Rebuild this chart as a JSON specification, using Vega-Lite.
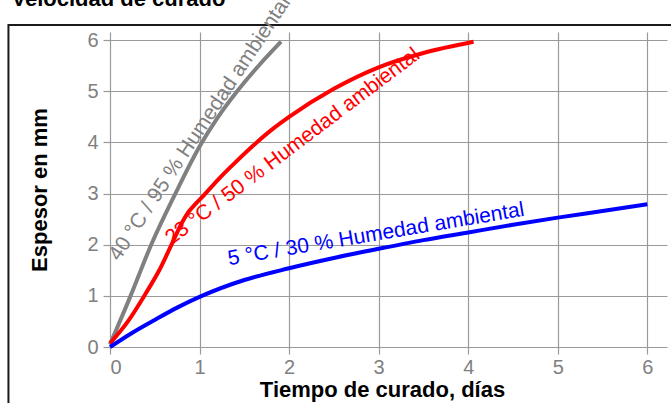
{
  "$schema": "https://vega.github.io/schema/vega-lite/v6.json",
  "width": 557,
  "height": 315,
  "autosize": {"type": "none"},
  "padding": {"left": 110, "top": 32, "right": 4, "bottom": 56},
  "background": "white",
  "title": {
    "text": "Velocidad de curado",
    "anchor": "start",
    "frame": "bounds",
    "font": "Liberation Sans",
    "fontSize": 22,
    "fontWeight": "bold",
    "color": "black",
    "offset": 4,
    "dy": 22,
    "dx": 4
  },
  "config": {
    "view": {"stroke": null},
    "font": "Liberation Sans",
    "axis": {
      "grid": true,
      "gridColor": "#9a9a9a",
      "gridWidth": 1.2,
      "tickColor": "#9a9a9a",
      "tickWidth": 1.2,
      "tickSize": 7,
      "domain": false,
      "labelColor": "#808080",
      "labelFont": "Liberation Sans",
      "labelFontSize": 20,
      "titleFont": "Liberation Sans",
      "titleFontSize": 22,
      "titleFontWeight": "bold",
      "titleColor": "black"
    }
  },
  "datasets": {
    "curves": [
      {"serie": "40 °C", "dias": 0, "mm": 0.05},
      {"serie": "40 °C", "dias": 0.23, "mm": 1.0},
      {"serie": "40 °C", "dias": 0.46, "mm": 2.0},
      {"serie": "40 °C", "dias": 0.73, "mm": 3.0},
      {"serie": "40 °C", "dias": 1.0, "mm": 3.92},
      {"serie": "40 °C", "dias": 1.2, "mm": 4.48},
      {"serie": "40 °C", "dias": 1.42, "mm": 5.0},
      {"serie": "40 °C", "dias": 1.66, "mm": 5.5},
      {"serie": "40 °C", "dias": 1.91, "mm": 5.97},
      {"serie": "23 °C", "dias": 0, "mm": 0.07},
      {"serie": "23 °C", "dias": 0.2, "mm": 0.5},
      {"serie": "23 °C", "dias": 0.4, "mm": 1.05},
      {"serie": "23 °C", "dias": 0.55, "mm": 1.5},
      {"serie": "23 °C", "dias": 0.7, "mm": 2.05},
      {"serie": "23 °C", "dias": 0.8, "mm": 2.42},
      {"serie": "23 °C", "dias": 0.88, "mm": 2.65},
      {"serie": "23 °C", "dias": 0.95, "mm": 2.79},
      {"serie": "23 °C", "dias": 1.05, "mm": 2.97},
      {"serie": "23 °C", "dias": 1.2, "mm": 3.26},
      {"serie": "23 °C", "dias": 1.4, "mm": 3.61},
      {"serie": "23 °C", "dias": 1.6, "mm": 3.94},
      {"serie": "23 °C", "dias": 1.8, "mm": 4.24},
      {"serie": "23 °C", "dias": 2.0, "mm": 4.5},
      {"serie": "23 °C", "dias": 2.5, "mm": 5.05},
      {"serie": "23 °C", "dias": 3.0, "mm": 5.47},
      {"serie": "23 °C", "dias": 3.5, "mm": 5.75},
      {"serie": "23 °C", "dias": 4.06, "mm": 5.97},
      {"serie": "5 °C", "dias": 0, "mm": 0},
      {"serie": "5 °C", "dias": 0.25, "mm": 0.28},
      {"serie": "5 °C", "dias": 0.5, "mm": 0.53},
      {"serie": "5 °C", "dias": 0.75, "mm": 0.77},
      {"serie": "5 °C", "dias": 1.0, "mm": 0.98},
      {"serie": "5 °C", "dias": 1.5, "mm": 1.31},
      {"serie": "5 °C", "dias": 2.0, "mm": 1.54},
      {"serie": "5 °C", "dias": 2.5, "mm": 1.74},
      {"serie": "5 °C", "dias": 3.0, "mm": 1.92},
      {"serie": "5 °C", "dias": 3.5, "mm": 2.09},
      {"serie": "5 °C", "dias": 4.0, "mm": 2.24},
      {"serie": "5 °C", "dias": 4.5, "mm": 2.39},
      {"serie": "5 °C", "dias": 5.0, "mm": 2.53},
      {"serie": "5 °C", "dias": 5.5, "mm": 2.66},
      {"serie": "5 °C", "dias": 6.0, "mm": 2.79}
    ]
  },
  "encoding": {
    "x": {
      "type": "quantitative",
      "scale": {"domain": [0, 6.22], "nice": false, "zero": false},
      "axis": {"values": [0, 1, 2, 3, 4, 5, 6], "title": "Tiempo de curado, días", "labelPadding": 3, "titlePadding": 2, "titleX": 272, "titleAnchor": "middle", "format": "d"}
    },
    "y": {
      "type": "quantitative",
      "scale": {"domain": [0, 6.16], "nice": false, "zero": false},
      "axis": {"values": [0, 1, 2, 3, 4, 5, 6], "title": "Espesor en mm", "labelPadding": 5, "titlePadding": 35, "format": "d"}
    }
  },
  "layer": [
    {
      "data": {"values": [{}]},
      "mark": {"type": "rect", "fill": null, "fillOpacity": 0, "stroke": "#1a1a1a", "strokeWidth": 2, "clip": false},
      "encoding": {
        "x": {"datum": -1.134},
        "x2": {"datum": 7.5},
        "y": {"datum": 6.295},
        "y2": {"datum": -2.5}
      }
    },
    {
      "data": {"name": "curves"},
      "mark": {"type": "line", "strokeWidth": 4, "interpolate": "monotone", "strokeCap": "butt"},
      "encoding": {
        "x": {"field": "dias"},
        "y": {"field": "mm"},
        "color": {
          "field": "serie",
          "type": "nominal",
          "scale": {"domain": ["40 °C", "23 °C", "5 °C"], "range": ["#808080", "#ff0000", "#0000ff"]},
          "legend": null
        },
        "order": {"field": "dias"}
      }
    },
    {
      "data": {"values": [{"dias": 0.1, "mm": 1.66, "texto": "40 °C / 95 % Humedad ambiental"}]},
      "mark": {"type": "text", "angle": -56.5, "align": "left", "baseline": "alphabetic", "fontSize": 21, "font": "Liberation Sans", "color": "#808080"},
      "encoding": {"x": {"field": "dias"}, "y": {"field": "mm"}, "text": {"field": "texto"}}
    },
    {
      "data": {"values": [{"dias": 0.69, "mm": 1.99, "texto": "23 °C / 50 % Humedad ambiental"}]},
      "mark": {"type": "text", "angle": -37, "align": "left", "baseline": "alphabetic", "fontSize": 21, "font": "Liberation Sans", "color": "#ff0000"},
      "encoding": {"x": {"field": "dias"}, "y": {"field": "mm"}, "text": {"field": "texto"}}
    },
    {
      "data": {"values": [{"dias": 1.33, "mm": 1.6, "texto": "5 °C / 30 % Humedad ambiental"}]},
      "mark": {"type": "text", "angle": -9.5, "align": "left", "baseline": "alphabetic", "fontSize": 21, "font": "Liberation Sans", "color": "#0000ff"},
      "encoding": {"x": {"field": "dias"}, "y": {"field": "mm"}, "text": {"field": "texto"}}
    }
  ]
}
